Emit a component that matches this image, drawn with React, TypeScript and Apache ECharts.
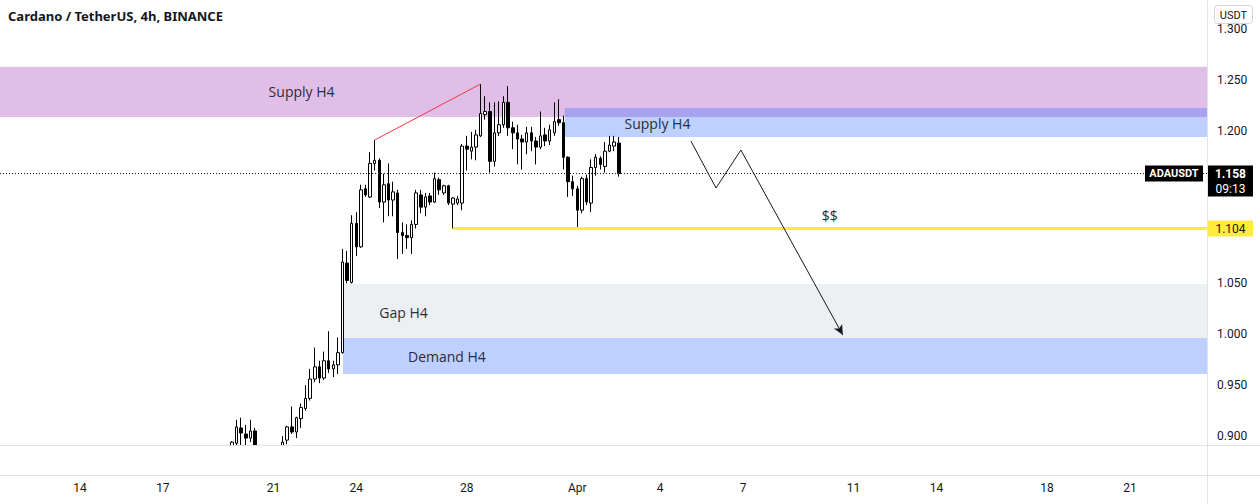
import React, { useEffect, useRef } from 'react';
import * as echarts from 'echarts';

const TITLE = 'Cardano / TetherUS, 4h, BINANCE';
const SYMBOL = 'ADAUSDT';
const CURRENCY = 'USDT';
const LAST_PRICE = 1.158;
const COUNTDOWN = '09:13';
const LIQUIDITY_LEVEL = 1.104;

// x unit: day of March (Mar d 00:00 = d, Apr 1 = 32)
const X_MIN = 11.105;
const X_MAX = 54.79;
const Y_MIN = 0.8912;
const Y_MAX = 1.3286;

const xTickDays = [14, 17, 21, 24, 28, 32, 35, 38, 42, 45, 49, 52];
const xTickLabels = ['14', '17', '21', '24', '28', 'Apr', '4', '7', '11', '14', '18', '21'];
const yTickValues = [0.9, 0.95, 1.0, 1.05, 1.2, 1.25, 1.3];

// 4h candles, the first one opens Mar 19 12:00
const FIRST_CANDLE_DAY = 19.5;
const CANDLE_DAYS = 4 / 24;
const opens = [
  0.888, 0.893, 0.908, 0.902, 0.898, 0.905, null, null, null, null, null,
  0.886, 0.896, 0.909, 0.904, 0.917, 0.927, 0.937, 0.956, 0.968, 0.957, 0.974, 0.966, 0.970,
  0.982, 1.070, 1.051, 1.109, 1.086, 1.143, 1.135, 1.168, 1.171, 1.130, 1.148, 1.132, 1.139,
  1.100, 1.097, 1.095, 1.108, 1.137, 1.125, 1.136, 1.130, 1.152, 1.139, 1.146, 1.128, 1.129,
  1.129, 1.185, 1.180, 1.184, 1.195, 1.216, 1.219, 1.170, 1.198, 1.206, 1.228, 1.203, 1.198,
  1.192, 1.189, 1.198, 1.190, 1.184, 1.196, 1.190, 1.198, 1.211, 1.208, 1.174, 1.150, 1.143,
  1.122, 1.153, 1.129, 1.164, 1.173, 1.165, 1.180, 1.185, 1.188,
];
const closes = [
  0.894, 0.909, 0.903, 0.898, 0.905, 0.886, null, null, null, null, null,
  0.894, 0.909, 0.904, 0.918, 0.928, 0.937, 0.956, 0.968, 0.957, 0.974, 0.966, 0.970, 0.982,
  1.071, 1.053, 1.109, 1.086, 1.142, 1.137, 1.168, 1.171, 1.130, 1.147, 1.132, 1.140, 1.100,
  1.097, 1.095, 1.108, 1.139, 1.125, 1.135, 1.130, 1.153, 1.142, 1.146, 1.129, 1.134, 1.133,
  1.185, 1.182, 1.184, 1.196, 1.217, 1.219, 1.170, 1.198, 1.206, 1.228, 1.203, 1.198, 1.192,
  1.189, 1.198, 1.190, 1.184, 1.195, 1.190, 1.201, 1.209, 1.208, 1.174, 1.150, 1.143, 1.122,
  1.153, 1.130, 1.164, 1.174, 1.167, 1.180, 1.186, 1.189, 1.158,
];
const lows = [
  0.884, 0.889, 0.890, 0.890, 0.894, 0.882, null, null, null, null, null,
  0.884, 0.892, 0.902, 0.898, 0.908, 0.925, 0.935, 0.953, 0.952, 0.955, 0.962, 0.958, 0.961,
  0.981, 1.050, 1.050, 1.077, 1.085, 1.135, 1.134, 1.161, 1.124, 1.110, 1.116, 1.116, 1.074,
  1.079, 1.084, 1.079, 1.104, 1.119, 1.116, 1.127, 1.129, 1.137, 1.137, 1.127, 1.104, 1.127,
  1.122, 1.161, 1.172, 1.171, 1.194, 1.211, 1.159, 1.165, 1.195, 1.203, 1.195, 1.182, 1.167,
  1.162, 1.177, 1.180, 1.167, 1.182, 1.185, 1.186, 1.195, 1.205, 1.162, 1.135, 1.136, 1.104,
  1.119, 1.127, 1.120, 1.156, 1.162, 1.159, 1.179, 1.180, 1.155,
];
const highs = [
  0.895, 0.916, 0.918, 0.911, 0.916, 0.908, null, null, null, null, null,
  0.900, 0.910, 0.929, 0.919, 0.932, 0.950, 0.966, 0.987, 0.974, 0.983, 1.003, 0.974, 0.997,
  1.084, 1.082, 1.117, 1.120, 1.147, 1.147, 1.179, 1.191, 1.173, 1.158, 1.168, 1.150, 1.142,
  1.110, 1.108, 1.112, 1.142, 1.142, 1.139, 1.139, 1.159, 1.154, 1.147, 1.147, 1.135, 1.136,
  1.187, 1.195, 1.199, 1.201, 1.246, 1.234, 1.228, 1.228, 1.229, 1.234, 1.244, 1.209, 1.206,
  1.196, 1.204, 1.204, 1.194, 1.219, 1.203, 1.206, 1.228, 1.231, 1.215, 1.175, 1.156, 1.146,
  1.155, 1.157, 1.172, 1.177, 1.175, 1.189, 1.195, 1.195, 1.194,
];

// zones [dayFrom, dayTo, priceTop, priceBottom]
const supplyH4Pink = [X_MIN, X_MAX, 1.263, 1.2135];
const supplyH4Blue = [31.55, X_MAX, 1.2224, 1.194];
const gapH4 = [23.52, X_MAX, 1.0494, 0.9963];
const demandH4 = [23.52, X_MAX, 0.9963, 0.961];

// trend line (day, price)
const trendLine = [[24.667, 1.191], [28.5, 1.246]];
// projected path (day, price)
const projection = [[36.11, 1.19], [37.02, 1.1438], [37.92, 1.1811], [41.61, 0.9993]];
const LIQUIDITY_FROM_DAY = 27.5;

const annotations = [
  { text: 'Supply H4', day: 22.02, price: 1.2391 },
  { text: 'Supply H4', day: 34.9, price: 1.2077 },
  { text: 'Gap H4', day: 25.71, price: 1.0219 },
  { text: 'Demand H4', day: 27.28, price: 0.9786 },
  { text: '$$', day: 41.14, price: 1.1172 },
];

const PINK = 'rgba(156,39,176,0.3)';
const BLUE = 'rgba(41,98,255,0.3)';
const GRAY = '#edf0f3';
const YELLOW = '#ffeb3b';
const INK = '#131722';
const LINE = '#e0e3eb';

const zoneArea = (z: number[], color: string) => [
  { coord: [z[0], z[2]], itemStyle: { color } },
  { coord: [z[1], z[3]] },
];

export default function App() {
  const ref = useRef<HTMLDivElement>(null);

  useEffect(() => {
    if (!ref.current) return;
    const chart = echarts.init(ref.current, null, { renderer: 'svg' });

    const candles = opens
      .map((o, i) =>
        o == null ? null : [FIRST_CANDLE_DAY + i * CANDLE_DAYS, o, closes[i], lows[i], highs[i]]
      )
      .filter((d) => d != null);

    const segs = [];
    for (let i = 0; i < projection.length - 2; i++) {
      segs.push([{ coord: projection[i] }, { coord: projection[i + 1] }]);
    }

    const option: any = {
      animation: false,
      backgroundColor: '#ffffff',
      grid: { left: 0, right: 53, top: 0, bottom: 59 },
      xAxis: {
        type: 'value',
        min: X_MIN,
        max: X_MAX,
        axisLine: { show: false },
        axisTick: { show: false },
        splitLine: { show: false },
        axisLabel: {
          customValues: xTickDays,
          formatter: (v: number) => {
            const k = xTickDays.indexOf(Math.round(v));
            return k >= 0 ? xTickLabels[k] : '';
          },
          margin: 37,
          color: INK,
          fontSize: 12,
          fontFamily: 'Roboto',
        },
      },
      yAxis: {
        type: 'value',
        position: 'right',
        min: Y_MIN,
        max: Y_MAX,
        axisLine: { show: false },
        axisTick: { show: false },
        splitLine: { show: false },
        axisLabel: {
          customValues: yTickValues,
          formatter: (v: number) => v.toFixed(3),
          margin: 10,
          color: INK,
          fontSize: 12,
          fontFamily: 'Roboto',
        },
      },
      series: [
        {
          type: 'line',
          data: [],
          z: 1,
          silent: true,
          markArea: {
            silent: true,
            label: { show: false },
            data: [
              zoneArea(supplyH4Pink, PINK),
              zoneArea(gapH4, GRAY),
              zoneArea(demandH4, BLUE),
              zoneArea(supplyH4Blue, BLUE),
            ],
          },
        },
        {
          type: 'candlestick',
          z: 3,
          clip: true,
          barWidth: 3,
          data: candles,
          itemStyle: {
            color: '#ffffff',
            color0: '#000000',
            borderColor: '#000000',
            borderColor0: '#000000',
            borderWidth: 1,
          },
        },
        {
          type: 'line',
          data: [],
          z: 4,
          silent: true,
          markLine: {
            silent: true,
            symbol: ['none', 'none'],
            label: { show: false },
            data: [
              [
                { coord: [X_MIN, LAST_PRICE], lineStyle: { color: INK, width: 1, type: [1, 2] } },
                { coord: [X_MAX, LAST_PRICE] },
              ],
              [
                { coord: [LIQUIDITY_FROM_DAY, LIQUIDITY_LEVEL], lineStyle: { color: YELLOW, width: 3, type: 'solid' } },
                { coord: [X_MAX, LIQUIDITY_LEVEL] },
              ],
              [
                { coord: trendLine[0], lineStyle: { color: '#f23645', width: 1, type: 'solid' } },
                { coord: trendLine[1] },
              ],
              ...segs.map((s) => [
                { ...s[0], lineStyle: { color: INK, width: 1, type: 'solid' } },
                s[1],
              ]),
            ],
          },
        },
        {
          type: 'line',
          data: [],
          z: 4,
          silent: true,
          markLine: {
            silent: true,
            symbol: ['none', 'arrow'],
            symbolSize: [7, 10],
            label: { show: false },
            lineStyle: { color: INK, width: 1, type: 'solid' },
            data: [
              [
                { coord: projection[projection.length - 2] },
                { coord: projection[projection.length - 1] },
              ],
            ],
          },
        },
      ],
    };
    chart.setOption(option);

    const px = (d: number, p: number) =>
      chart.convertToPixel({ xAxisIndex: 0, yAxisIndex: 0 }, [d, p]) as number[];
    const yLast = px(X_MIN, LAST_PRICE)[1];
    const yLiq = px(X_MIN, LIQUIDITY_LEVEL)[1];

    const graphic: any[] = [
      { type: 'rect', z: 49, shape: { x: 0, y: 446, width: 1207, height: 29 }, style: { fill: '#ffffff' } },
      { type: 'line', z: 50, shape: { x1: 0, y1: 445.5, x2: 1260, y2: 445.5 }, style: { stroke: LINE, lineWidth: 1 } },
      { type: 'line', z: 50, shape: { x1: 0, y1: 475.5, x2: 1260, y2: 475.5 }, style: { stroke: LINE, lineWidth: 1 } },
      { type: 'line', z: 50, shape: { x1: 1207.5, y1: 0, x2: 1207.5, y2: 504 }, style: { stroke: LINE, lineWidth: 1 } },
      {
        type: 'text', z: 60, x: 8, y: 16,
        style: { text: TITLE, fill: INK, fontSize: 13, fontWeight: 'bold', fontFamily: 'Noto Sans', align: 'left', verticalAlign: 'middle' },
      },
      { type: 'rect', z: 60, shape: { x: 1214.5, y: 5.5, width: 38, height: 18, r: 3 }, style: { fill: '#ffffff', stroke: '#d1d4dc', lineWidth: 1 } },
      {
        type: 'text', z: 61, x: 1233.5, y: 15,
        style: { text: CURRENCY, fill: INK, fontSize: 11, fontFamily: 'Roboto', align: 'center', verticalAlign: 'middle' },
      },
      { type: 'rect', z: 60, shape: { x: 1208, y: yLast - 8, width: 45, height: 31 }, style: { fill: '#000000' } },
      {
        type: 'text', z: 61, x: 1230.5, y: yLast,
        style: { text: LAST_PRICE.toFixed(3), fill: '#ffffff', fontSize: 12, fontWeight: 'bold', fontFamily: 'Roboto', align: 'center', verticalAlign: 'middle' },
      },
      {
        type: 'text', z: 61, x: 1230.5, y: yLast + 15,
        style: { text: COUNTDOWN, fill: '#ffffff', fontSize: 12, fontFamily: 'Roboto', align: 'center', verticalAlign: 'middle' },
      },
      { type: 'rect', z: 60, shape: { x: 1145, y: yLast - 8, width: 58, height: 16 }, style: { fill: '#000000' } },
      {
        type: 'text', z: 61, x: 1174, y: yLast,
        style: { text: SYMBOL, fill: '#ffffff', fontSize: 11, fontWeight: 'bold', fontFamily: 'Roboto', align: 'center', verticalAlign: 'middle' },
      },
      { type: 'rect', z: 60, shape: { x: 1208, y: yLiq - 8, width: 45, height: 16 }, style: { fill: YELLOW } },
      {
        type: 'text', z: 61, x: 1230.5, y: yLiq,
        style: { text: LIQUIDITY_LEVEL.toFixed(3), fill: INK, fontSize: 12, fontFamily: 'Roboto', align: 'center', verticalAlign: 'middle' },
      },
      ...annotations.map((a) => {
        const [x, y] = px(a.day, a.price);
        return {
          type: 'text', z: 55, x, y,
          style: { text: a.text, fill: '#2a2e39', fontSize: 14, fontFamily: 'Open Sans', align: 'center', verticalAlign: 'middle' },
        };
      }),
    ];
    chart.setOption({ graphic });

    return () => chart.dispose();
  }, []);

  return (
    <div
      ref={ref}
      style={{ position: 'fixed', left: 0, top: 0, width: 1260, height: 504, background: '#ffffff' }}
    />
  );
}
